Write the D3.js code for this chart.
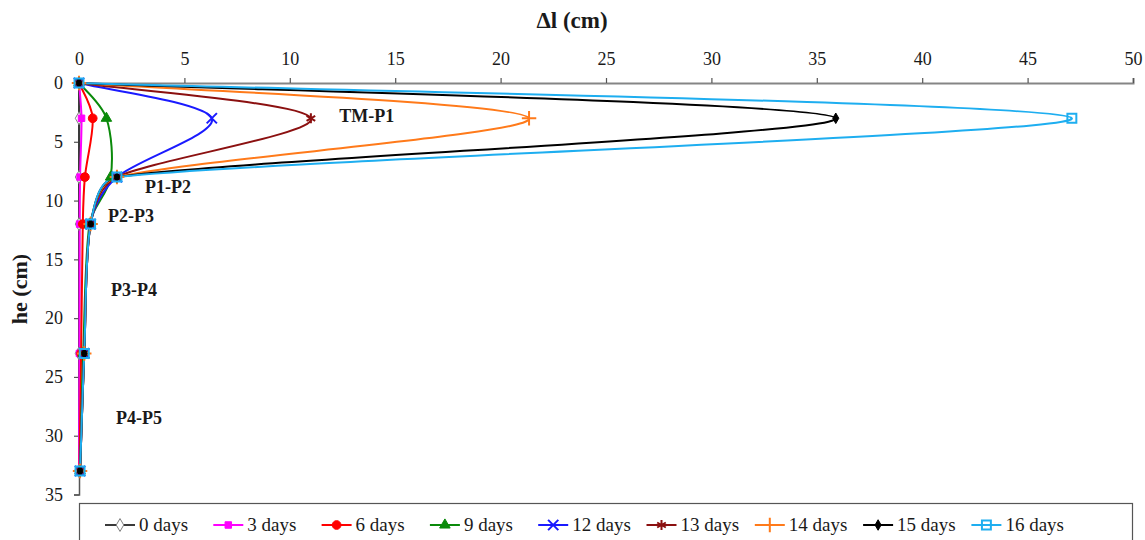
<!DOCTYPE html>
<html>
<head>
<meta charset="utf-8">
<script src="https://cdn.jsdelivr.net/npm/d3@7"></script>
<style>
  html, body { margin: 0; padding: 0; background: #fff; }
  svg { display: block; }
  text { font-family: "Liberation Serif", "DejaVu Serif", serif; }
</style>
</head>
<body>
<svg id="chart" width="1145" height="540"></svg>
<script>
// Depth of each measuring point (cm)
const depths = [0, 3, 8, 12, 23, 33];

// Displacement Δl (cm) at each depth, one array per elapsed time
const days0  = [0, 0,     0,    0,    0,    0];
const days3  = [0, 0.12,  0.05, 0.03, 0.02, 0];
const days6  = [0, 0.65,  0.28, 0.18, 0.1,  0.02];
const days9  = [0, 1.3,   1.5,  0.5,  0.2,  0.05];
const days12 = [0, 6.3,   1.8,  0.55, 0.25, 0.05];
const days13 = [0, 11.0,  1.8,  0.55, 0.25, 0.05];
const days14 = [0, 21.35, 1.8,  0.55, 0.25, 0.05];
const days15 = [0, 35.9,  1.8,  0.55, 0.25, 0.05];
const days16 = [0, 47.1,  1.8,  0.55, 0.25, 0.05];

const seriesNames = ["0 days", "3 days", "6 days", "9 days", "12 days", "13 days", "14 days", "15 days", "16 days"];
const seriesValues = [days0, days3, days6, days9, days12, days13, days14, days15, days16];

const xTicks = [0, 5, 10, 15, 20, 25, 30, 35, 40, 45, 50];
const yTicks = [0, 5, 10, 15, 20, 25, 30, 35];

// Zone labels placed at (Δl, depth)
const zoneLabels = [
  { text: "TM-P1", x: 13.65, y: 2.8 },
  { text: "P1-P2", x: 4.22,  y: 8.8 },
  { text: "P2-P3", x: 2.47,  y: 11.3 },
  { text: "P3-P4", x: 2.61,  y: 17.55 },
  { text: "P4-P5", x: 2.85,  y: 28.5 }
];

const styles = [
  { line: "#3a3a3a", symbol: d3.symbolDiamond,  size: 48, fill: "#ffffff", stroke: "#808080", sw: 1 },
  { line: "#ff00ff", symbol: d3.symbolSquare,   size: 42, fill: "#ff00ff", stroke: "#ff00ff", sw: 1 },
  { line: "#ff0000", symbol: d3.symbolCircle,   size: 60, fill: "#ff0000", stroke: "#ff0000", sw: 1 },
  { line: "#0a8a0a", symbol: d3.symbolTriangle, size: 48, fill: "#0a8a0a", stroke: "#0a8a0a", sw: 1 },
  { line: "#1a1aff", symbol: d3.symbolTimes,    size: 70, fill: "none",    stroke: "#1a1aff", sw: 2 },
  { line: "#8b1010", symbol: d3.symbolAsterisk, size: 70, fill: "none",    stroke: "#8b1010", sw: 2 },
  { line: "#ff7a1a", symbol: d3.symbolPlus,     size: 70, fill: "none",    stroke: "#ff7a1a", sw: 2 },
  { line: "#000000", symbol: d3.symbolDiamond,  size: 32, fill: "#000000", stroke: "#000000", sw: 1 },
  { line: "#1eaef0", symbol: d3.symbolSquare,   size: 80, fill: "none",    stroke: "#1eaef0", sw: 2 }
];

// Smooth curve through the points: cubic Bézier segments with
// Catmull-Rom tangents whose handles are capped relative to the segment
// length, so sharp turns do not swing past the neighbouring points.
function SmoothCapped(context) { this._context = context; }
SmoothCapped.prototype = {
  areaStart() { this._line = 0; },
  areaEnd() { this._line = NaN; },
  lineStart() { this._pts = []; },
  point(x, y) { this._pts.push([+x, +y]); },
  lineEnd() {
    const p = this._pts, n = p.length, c = this._context, k = 0.35;
    if (!n) return;
    c.moveTo(p[0][0], p[0][1]);
    if (n === 1) return;
    const cap = (v, len) => {
      const m = Math.hypot(v[0], v[1]);
      if (m > k * len && m > 0) { const s = k * len / m; return [v[0] * s, v[1] * s]; }
      return v;
    };
    for (let i = 0; i < n - 1; i++) {
      const a = p[i], b = p[i + 1];
      const len = Math.hypot(b[0] - a[0], b[1] - a[1]);
      const prev = i === 0 ? a : p[i - 1];
      const next = i + 2 >= n ? b : p[i + 2];
      const out = cap([(b[0] - prev[0]) / 6, (b[1] - prev[1]) / 6], len);
      const inn = cap([(next[0] - a[0]) / 6, (next[1] - a[1]) / 6], len);
      c.bezierCurveTo(a[0] + out[0], a[1] + out[1], b[0] - inn[0], b[1] - inn[1], b[0], b[1]);
    }
  }
};
const curveSmoothCapped = (context) => new SmoothCapped(context);

const svg = d3.select("#chart");
const x = d3.scaleLinear().domain([0, 50]).range([79, 1133]);
const y = d3.scaleLinear().domain([0, 35]).range([83, 494.5]);

// Top axis (Δl)
const xAxis = svg.append("g")
  .attr("transform", `translate(0,${y(0)})`)
  .call(d3.axisTop(x).tickValues(xTicks).tickSize(5).tickPadding(13));
xAxis.select(".domain").attr("stroke", "#858585").attr("stroke-width", 2);
xAxis.selectAll(".tick line").attr("stroke", "#555").attr("stroke-width", 1.2);
xAxis.selectAll(".tick text").attr("font-size", 18).attr("fill", "#1a1a1a")
  .attr("font-family", "Liberation Serif, serif");

// Left axis (depth)
const yAxis = svg.append("g")
  .attr("transform", `translate(${x(0)},0)`)
  .call(d3.axisLeft(y).tickValues(yTicks).tickSize(5).tickPadding(11));
yAxis.select(".domain").attr("stroke", "#555").attr("stroke-width", 1.5);
yAxis.selectAll(".tick line").attr("stroke", "#555").attr("stroke-width", 1.2);
yAxis.selectAll(".tick text").attr("font-size", 18).attr("fill", "#1a1a1a")
  .attr("font-family", "Liberation Serif, serif");

// Axis titles
svg.append("text")
  .attr("x", 572).attr("y", 28)
  .attr("text-anchor", "middle")
  .attr("font-size", 23).attr("font-weight", "bold").attr("fill", "#1a1a1a")
  .text("Δl (cm)");

svg.append("text")
  .attr("transform", "translate(27,289) rotate(-90)")
  .attr("text-anchor", "middle")
  .attr("font-size", 22).attr("font-weight", "bold").attr("fill", "#1a1a1a")
  .text("he (cm)");

// Profile lines
const line = d3.line()
  .x(d => x(d[0]))
  .y(d => y(d[1]))
  .curve(curveSmoothCapped);

const symbolFor = (st) => d3.symbol().type(st.symbol).size(st.size);

seriesValues.forEach((vals, i) => {
  const st = styles[i];
  const pts = vals.map((v, j) => [v, depths[j]]);
  svg.append("path")
    .attr("d", line(pts))
    .attr("fill", "none")
    .attr("stroke", st.line)
    .attr("stroke-width", 2);
});

seriesValues.forEach((vals, i) => {
  const st = styles[i];
  const pts = vals.map((v, j) => [v, depths[j]]);
  svg.append("g").selectAll("path")
    .data(pts)
    .join("path")
    .attr("transform", d => `translate(${x(d[0])},${y(d[1])})`)
    .attr("d", symbolFor(st))
    .attr("fill", st.fill)
    .attr("stroke", st.stroke)
    .attr("stroke-width", st.sw);
});

// Zone labels
svg.append("g").selectAll("text")
  .data(zoneLabels)
  .join("text")
  .attr("x", d => x(d.x))
  .attr("y", d => y(d.y))
  .attr("dy", "0.35em")
  .attr("text-anchor", "middle")
  .attr("font-size", 18).attr("font-weight", "bold").attr("fill", "#1a1a1a")
  .text(d => d.text);

// Legend
const legend = svg.append("g");
legend.append("rect")
  .attr("x", 79.5).attr("y", 503.5)
  .attr("width", 1053).attr("height", 60)
  .attr("fill", "#fff").attr("stroke", "#555").attr("stroke-width", 1.2);

const legendY = 525;
seriesNames.forEach((name, i) => {
  const st = styles[i];
  const x0 = 105 + i * 108.3;
  const g = legend.append("g").attr("transform", `translate(${x0},${legendY})`);
  g.append("line").attr("x1", 0).attr("x2", 30).attr("y1", 0).attr("y2", 0)
    .attr("stroke", st.line).attr("stroke-width", 2);
  g.append("path")
    .attr("transform", "translate(15,0)")
    .attr("d", symbolFor(st))
    .attr("fill", st.fill).attr("stroke", st.stroke).attr("stroke-width", st.sw);
  g.append("text")
    .attr("x", 34).attr("y", 0).attr("dy", "0.33em")
    .attr("font-size", 19).attr("fill", "#1a1a1a")
    .text(name);
});
</script>
</body>
</html>
